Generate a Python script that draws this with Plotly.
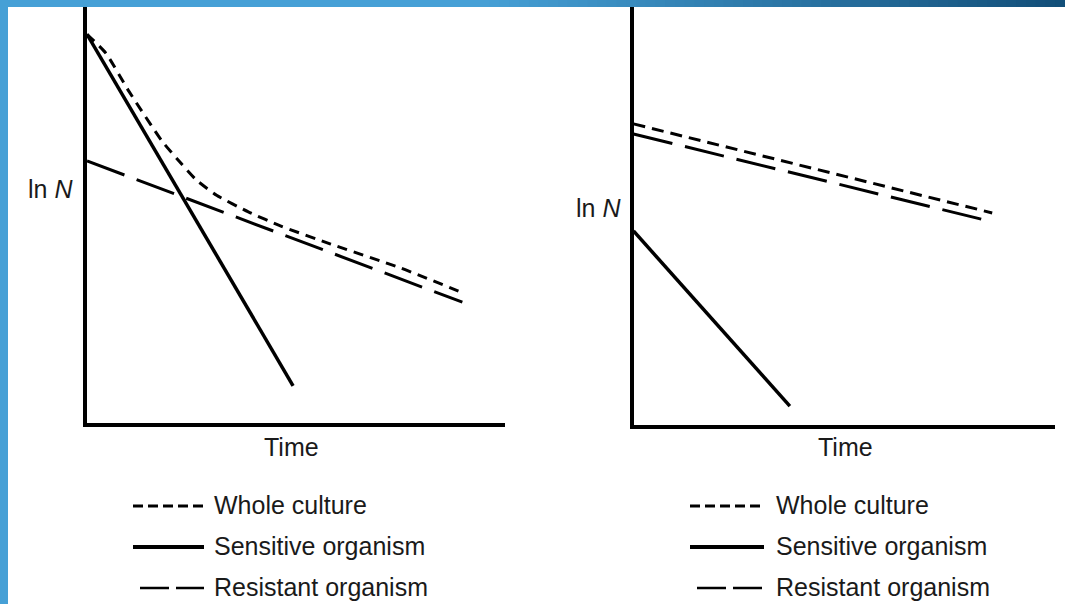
import plotly.graph_objects as go

W, H = 1065, 604

# ---------------- data (arbitrary units: time, ln N) ----------------
# Left panel
left_whole_time = [0, 0.45, 1.0, 1.79, 2.26, 2.62, 3.10, 3.86, 4.64, 5.83, 7.5, 9.0]
left_whole_lnN = [9.3, 8.85, 7.94, 6.75, 6.2, 5.81, 5.45, 5.05, 4.71, 4.28, 3.71, 3.11]
left_sens_time = [0, 4.93]
left_sens_lnN = [9.3, 0.89]
left_res_time = [0, 8.98]
left_res_lnN = [6.27, 2.89]

# Right panel
right_whole_time = [0, 8.51]
right_whole_lnN = [7.17, 5.05]
right_res_time = [0, 8.42]
right_res_lnN = [6.93, 4.86]
right_sens_time = [0, 3.71]
right_sens_lnN = [4.62, 0.45]

legend_labels = ["Whole culture", "Sensitive organism", "Resistant organism"]
axis_x_label = "Time"
axis_y_label = "ln <i>N</i>"

# ---------------- helpers ----------------
def px(x):
    return x / W

def py(y):
    return 1 - y / H

FONT = dict(family="Liberation Sans, Arial, sans-serif", size=25, color="#1a1a1a")

fig = go.Figure()

whole_dash = "10px,7px"
res_dash = "40px,13px"

# left traces
fig.add_trace(go.Scatter(x=left_whole_time, y=left_whole_lnN, mode="lines",
                         line=dict(color="black", width=3, dash=whole_dash, shape="spline", smoothing=0.5),
                         xaxis="x", yaxis="y", name=legend_labels[0], showlegend=False))
fig.add_trace(go.Scatter(x=left_sens_time, y=left_sens_lnN, mode="lines",
                         line=dict(color="black", width=3.5),
                         xaxis="x", yaxis="y", name=legend_labels[1], showlegend=False))
fig.add_trace(go.Scatter(x=left_res_time, y=left_res_lnN, mode="lines",
                         line=dict(color="black", width=3, dash=res_dash),
                         xaxis="x", yaxis="y", name=legend_labels[2], showlegend=False))
# right traces
fig.add_trace(go.Scatter(x=right_whole_time, y=right_whole_lnN, mode="lines",
                         line=dict(color="black", width=3, dash="12px,7px"),
                         xaxis="x2", yaxis="y2", name=legend_labels[0], showlegend=False))
fig.add_trace(go.Scatter(x=right_sens_time, y=right_sens_lnN, mode="lines",
                         line=dict(color="black", width=3.5),
                         xaxis="x2", yaxis="y2", name=legend_labels[1], showlegend=False))
fig.add_trace(go.Scatter(x=right_res_time, y=right_res_lnN, mode="lines",
                         line=dict(color="black", width=3, dash=res_dash),
                         xaxis="x2", yaxis="y2", name=legend_labels[2], showlegend=False))

axis_common = dict(showline=True, linecolor="black", linewidth=4, showgrid=False,
                   zeroline=False, showticklabels=False, ticks="", fixedrange=True)

fig.update_layout(
    width=W, height=H,
    margin=dict(l=0, r=0, t=0, b=0),
    paper_bgcolor="white", plot_bgcolor="white",
    xaxis=dict(domain=[px(87), px(505)], range=[0, 10], anchor="y", **axis_common),
    yaxis=dict(domain=[py(423), py(0)], range=[0, 10.12], anchor="x", **axis_common),
    xaxis2=dict(domain=[px(633.5), px(1055)], range=[0, 10], anchor="y2", **axis_common),
    yaxis2=dict(domain=[py(425), py(0)], range=[0, 10.12], anchor="x2", **axis_common),
    showlegend=False,
)

shapes = []
annotations = []

# slide decoration: blue bars
shapes.append(dict(type="rect", xref="paper", yref="paper", x0=0, x1=px(8), y0=0, y1=1,
                   fillcolor="#46a0d6", line=dict(width=0), layer="above"))
# top bar with gradient toward dark blue at right
n = 60
start, end = 480, W
c0 = (0x46, 0xa0, 0xd6)
c1 = (0x12, 0x4e, 0x78)
shapes.append(dict(type="rect", xref="paper", yref="paper", x0=0, x1=px(start + 1), y0=py(7), y1=1,
                   fillcolor="#46a0d6", line=dict(width=0), layer="above"))
for i in range(n):
    t = (i + 0.5) / n
    col = tuple(int(round(c0[k] + (c1[k] - c0[k]) * t)) for k in range(3))
    xa = start + (end - start) * i / n
    xb = start + (end - start) * (i + 1) / n + 1
    shapes.append(dict(type="rect", xref="paper", yref="paper", x0=px(xa), x1=px(min(xb, W)),
                       y0=py(7), y1=1, fillcolor="rgb(%d,%d,%d)" % col, line=dict(width=0), layer="above"))

# axis labels
annotations.append(dict(text=axis_y_label, x=px(50), y=py(189), xref="paper", yref="paper",
                        showarrow=False, font=FONT, xanchor="center", yanchor="middle"))
annotations.append(dict(text=axis_y_label, x=px(598), y=py(208), xref="paper", yref="paper",
                        showarrow=False, font=FONT, xanchor="center", yanchor="middle"))
annotations.append(dict(text=axis_x_label, x=px(291), y=py(447), xref="paper", yref="paper",
                        showarrow=False, font=FONT, xanchor="center", yanchor="middle"))
annotations.append(dict(text=axis_x_label, x=px(845), y=py(447), xref="paper", yref="paper",
                        showarrow=False, font=FONT, xanchor="center", yanchor="middle"))

# legends (one under each panel)
rows_y = [505, 546, 587]
for (sx0, sx1, rx0, tx) in [(133, 204, 140, 212), (690, 764, 697, 774)]:
    # whole culture sample
    shapes.append(dict(type="line", xref="paper", yref="paper", x0=px(sx0), x1=px(sx1),
                       y0=py(rows_y[0] + 1), y1=py(rows_y[0] + 1),
                       line=dict(color="black", width=3, dash="10px,5px")))
    # sensitive sample
    shapes.append(dict(type="line", xref="paper", yref="paper", x0=px(sx0), x1=px(sx1),
                       y0=py(rows_y[1] + 1), y1=py(rows_y[1] + 1),
                       line=dict(color="black", width=4)))
    # resistant sample
    shapes.append(dict(type="line", xref="paper", yref="paper", x0=px(rx0), x1=px(sx1),
                       y0=py(rows_y[2] + 1), y1=py(rows_y[2] + 1),
                       line=dict(color="black", width=2.5, dash="29px,7px")))
    for lab, yy in zip(legend_labels, rows_y):
        annotations.append(dict(text=lab, x=px(tx), y=py(yy), xref="paper", yref="paper",
                                showarrow=False, font=FONT, xanchor="left", yanchor="middle"))

fig.update_layout(shapes=shapes, annotations=annotations)
fig.write_html("out.html", config={"displayModeBar": False},
               post_script="document.body.style.margin='0';document.body.style.padding='0';")
